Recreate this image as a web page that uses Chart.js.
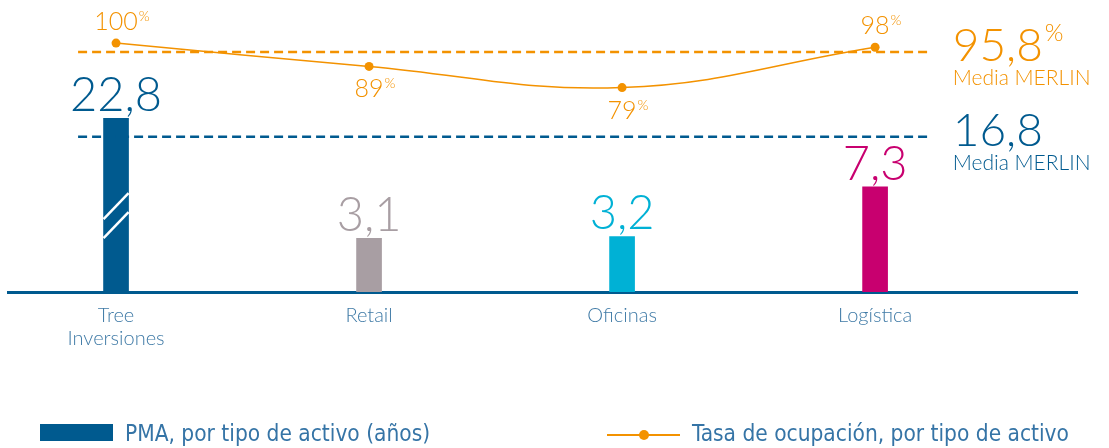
<!DOCTYPE html>
<html>
<head>
<meta charset="utf-8">
<script src="https://cdn.jsdelivr.net/npm/chart.js@4.4.1/dist/chart.umd.min.js"></script>
<style>
  html, body { margin: 0; padding: 0; background: #fff; }
  #wrap { position: relative; width: 1109px; height: 448px; }
  .lg { position: absolute; top: 421px; height: 24px; line-height: 24px; font-family: "Liberation Sans Narrow", "DejaVu Sans Condensed", sans-serif; font-stretch: condensed; font-size: 22.5px; color: #3574a6; white-space: nowrap; }
  .sw-bar { position: absolute; left: 0; top: 3px; width: 73px; height: 17px; background: #005a8f; }
  .sw-line { position: absolute; left: 0; top: 13px; width: 73px; height: 2px; background: #f39200; }
  .sw-dot { position: absolute; left: 32px; top: 9px; width: 10px; height: 10px; border-radius: 50%; background: #f39200; }
  .lg span.t { position: absolute; white-space: nowrap; }
</style>
</head>
<body>
<div id="wrap">
  <canvas id="chart" width="1109" height="448"></canvas>
  <div class="lg" style="left:40px"><div class="sw-bar"></div><span class="t" style="left:85px">PMA, por tipo de activo (años)</span></div>
  <div class="lg" style="left:607px"><div class="sw-line"></div><div class="sw-dot"></div><span class="t" style="left:85px">Tasa de ocupación, por tipo de activo</span></div>
</div>
<script>
// datos
const categories = [['Tree', 'Inversiones'], 'Retail', 'Oficinas', 'Logística'];
const pmaYears = [22.8, 3.1, 3.2, 7.3];          // PMA, años
const occupancy = [100, 89, 79, 98];             // tasa de ocupación, %
const pmaAverage = 16.8;                         // media MERLIN PMA
const occupancyAverage = 95.8;                   // media MERLIN ocupación

const barColors = ['#005a8f', '#a89ea3', '#00b1d5', '#c8006f'];
const blue = '#005a8f';
const orange = '#f39200';
const brokenBar = 0; // la barra de Tree va cortada

const fmt = v => v.toLocaleString('es-ES', { minimumFractionDigits: v % 1 ? 1 : 0, maximumFractionDigits: 1 });
const FONT = 'Lato, "Open Sans", sans-serif';

// líneas de media + textos de la derecha
const averagesPlugin = {
  id: 'averages',
  afterDatasetsDraw(chart) {
    const ctx = chart.ctx;
    const xs = chart.scales.x;
    const x0 = xs.getPixelForValue(-0.15);
    const x1 = xs.getPixelForValue(3.22);
    const rows = [
      { y: chart.scales.y2.getPixelForValue(occupancyAverage), color: orange, text: fmt(occupancyAverage), pct: true },
      { y: chart.scales.y.getPixelForValue(pmaAverage), color: blue, text: fmt(pmaAverage), pct: false }
    ];
    ctx.save();
    rows.forEach(r => {
      ctx.strokeStyle = r.color;
      ctx.lineWidth = 2.5;
      ctx.setLineDash([9, 5]);
      ctx.beginPath();
      ctx.moveTo(x0, r.y);
      ctx.lineTo(x1, r.y);
      ctx.stroke();
      ctx.setLineDash([]);

      ctx.fillStyle = r.color;
      ctx.textAlign = 'left';
      ctx.textBaseline = 'alphabetic';
      ctx.font = '300 46px ' + FONT;
      const tx = x1 + 22;
      ctx.fillText(r.text, tx, r.y + 9);
      if (r.pct) {
        const w = ctx.measureText(r.text).width;
        ctx.font = '300 24px ' + FONT;
        ctx.fillText('%', tx + w + 2, r.y - 11);
      }
      ctx.font = '300 21px ' + FONT;
      ctx.fillText('Media MERLIN', tx, r.y + 33);
    });
    ctx.restore();
  }
};

// etiquetas de valor, corte de barra y etiquetas de ocupación
const labelsPlugin = {
  id: 'labels',
  afterDraw(chart) {
    const ctx = chart.ctx;
    ctx.save();
    const bars = chart.getDatasetMeta(0).data;
    bars.forEach((el, i) => {
      if (i === brokenBar) {
        const h = el.base - el.y;
        const left = el.x - el.width / 2, right = el.x + el.width / 2;
        ctx.strokeStyle = '#fff';
        ctx.lineWidth = 2.5;
        [0.31, 0.42].forEach(f => {
          const yb = el.base - f * h;
          ctx.beginPath();
          ctx.moveTo(left, yb);
          ctx.lineTo(right, yb - 26);
          ctx.stroke();
        });
      }
      ctx.fillStyle = barColors[i];
      ctx.font = '300 47px ' + FONT;
      ctx.textAlign = 'center';
      ctx.textBaseline = 'alphabetic';
      ctx.fillText(fmt(pmaYears[i]), el.x, el.y - 7);
    });

    const pts = chart.getDatasetMeta(1).data;
    pts.forEach((p, i) => {
      const above = occupancy[i] >= occupancyAverage;
      const txt = fmt(occupancy[i]);
      ctx.fillStyle = orange;
      ctx.font = '300 25px ' + FONT;
      ctx.textAlign = 'center';
      ctx.textBaseline = 'alphabetic';
      const by = above ? p.y - 13 : p.y + 31;
      ctx.fillText(txt, p.x, by);
      const w = ctx.measureText(txt).width;
      ctx.font = '300 14px ' + FONT;
      ctx.textAlign = 'left';
      ctx.fillText('%', p.x + w / 2 + 1, by - 9);
    });
    ctx.restore();
  }
};

new Chart(document.getElementById('chart'), {
  type: 'bar',
  data: {
    datasets: [
      {
        type: 'bar',
        label: 'PMA, por tipo de activo (años)',
        data: pmaYears.map((v, i) => ({ x: i, y: v })),
        backgroundColor: barColors,
        borderWidth: 0,
        barThickness: 25,
        yAxisID: 'y',
        order: 1
      },
      {
        type: 'line',
        label: 'Tasa de ocupación, por tipo de activo',
        data: occupancy.map((v, i) => ({ x: i, y: v })),
        borderColor: orange,
        borderWidth: 1.5,
        pointRadius: 4.5,
        pointBackgroundColor: orange,
        pointBorderWidth: 0,
        tension: 0.4,
        yAxisID: 'y2',
        order: 0
      }
    ]
  },
  options: {
    responsive: false,
    animation: false,
    layout: { padding: { left: 8, right: 32, top: 10, bottom: 0 } },
    plugins: { legend: { display: false }, tooltip: { enabled: false } },
    scales: {
      x: {
        type: 'linear',
        offset: false,
        min: -0.427,
        max: 3.798,
        bounds: 'data',
        afterBuildTicks: scale => { scale.ticks = categories.map((c, i) => ({ value: i })); },
        afterFit: scale => { scale.height = 156; },
        grid: { display: false, drawTicks: false, offset: false },
        border: { display: true, color: blue, width: 3 },
        ticks: {
          padding: 12,
          color: '#3f7aa6',
          font: { family: FONT, size: 20, weight: '300', lineHeight: 1.15 },
          callback: value => categories[value]
        }
      },
      y: {
        type: 'logarithmic',
        display: false,
        bounds: 'data',
        min: 1.27,
        max: 138.5
      },
      y2: {
        type: 'linear',
        display: false,
        bounds: 'data',
        min: -17.45,
        max: 115.6
      }
    }
  },
  plugins: [averagesPlugin, labelsPlugin]
});
</script>
</body>
</html>
